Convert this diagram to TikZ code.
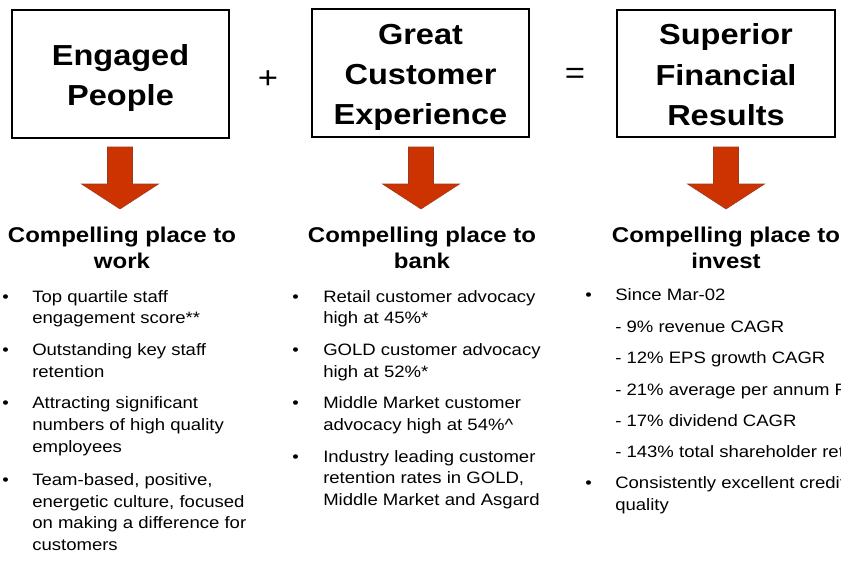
\documentclass[tikz,border=0pt]{standalone}
\usepackage{fontspec}
\usepackage{graphicx}
\setmainfont{Liberation Sans}
\definecolor{arrowred}{HTML}{CC3300}
\definecolor{arrowedge}{HTML}{9A3A20}
\newcommand\squash[1]{\scalebox{1}[0.89]{#1}}
\newcommand\boxlines[1]{\squash{\begin{tabular}{@{}c@{}}#1\end{tabular}}}
\begin{document}
\begin{tikzpicture}[x=0.75pt,y=-0.75pt,
  box/.style={draw=black, line width=1.3pt, minimum width=162.75pt, minimum height=96pt, inner sep=0pt},
  boxtext/.style={inner sep=0pt, yshift=-2.6pt, font=\fontsize{24.4}{34}\selectfont\bfseries},
  op/.style={inner sep=0pt, font=\fontsize{26}{30}\selectfont},
  head/.style={anchor=base, inner sep=0pt, font=\fontsize{18}{20}\selectfont\bfseries},
  txt/.style={anchor=base west, inner sep=0pt, font=\fontsize{13.9}{16}\selectfont},
  blockarrow/.style={fill=arrowred, draw=arrowedge, line width=0.4pt}]
\useasboundingbox (0,0) rectangle (841,563);
\clip (0,0) rectangle (841,563);

% top boxes and operators
\node[box] (b1) at (120.5,74) {};
\node[box] (b2) at (420.5,73) {};
\node[box, minimum width=163.5pt, minimum height=95.25pt] (b3) at (726,73.5) {};
\node[boxtext] (t1) at (b1.center) {\boxlines{Engaged\\People}};
\node[boxtext] (t2) at (b2.center) {\boxlines{Great\\Customer\\Experience}};
\node[boxtext] (t3) at (b3.center) {\boxlines{Superior\\Financial\\Results}};
\node[op] (plus) at (268,80) {\squash{+}};
\node[op] (eq) at (575,76) {\squash{=}};

% block arrows
\foreach \cx in {120,421,726}
  \draw[blockarrow] (\cx-12.5,147) -- (\cx+12.5,147) -- (\cx+12.5,184) -- (\cx+38.5,184)
     -- (\cx,209) -- (\cx-38.5,184) -- (\cx-12.5,184) -- cycle;

% headings
\node[head] (h1a) at (122,242) {\squash{Compelling place to}};
\node[head] (h1b) at (122,268) {\squash{work}};
\node[head] (h2a) at (422,242) {\squash{Compelling place to}};
\node[head] (h2b) at (422,268) {\squash{bank}};
\node[head] (h3a) at (726,242) {\squash{Compelling place to}};
\node[head] (h3b) at (726,268) {\squash{invest}};

% column 1
\foreach \yy [count=\i] in {302,355,408,485}
  \node[txt] (ab\i) at (2,\yy) {\squash{•}};
\foreach \yy/\s [count=\i] in {302/Top quartile staff, 323.5/engagement score**,
    355/Outstanding key staff, 377/retention,
    408/Attracting significant, 430/numbers of high quality, 452/employees,
    485/{Team-based, positive,}, 507/{energetic culture, focused},
    528/on making a difference for, 550/customers}
  \node[txt] (a\i) at (32,\yy) {\squash{\s}};

% column 2
\foreach \yy [count=\i] in {302,355,408,462}
  \node[txt] (bb\i) at (292,\yy) {\squash{•}};
\foreach \yy/\s [count=\i] in {302/Retail customer advocacy, 323.5/high at 45\%*,
    355/GOLD customer advocacy, 377/high at 52\%*,
    408/Middle Market customer, 430/advocacy high at 54\%\textasciicircum,
    462/Industry leading customer, 483/{retention rates in GOLD,},
    505/Middle Market and Asgard}
  \node[txt] (c\i) at (323,\yy) {\squash{\s}};

% column 3
\foreach \yy [count=\i] in {300,488}
  \node[txt] (db\i) at (585,\yy) {\squash{•}};
\foreach \yy/\s [count=\i] in {300/Since Mar-02, 332/- 9\% revenue CAGR,
    363/- 12\% EPS growth CAGR, 395/- 21\% average per annum ROE,
    426/- 17\% dividend CAGR, 457/- 143\% total shareholder return,
    488/Consistently excellent credit, 510/quality}
  \node[txt] (d\i) at (615,\yy) {\squash{\s}};
\end{tikzpicture}
\end{document}
